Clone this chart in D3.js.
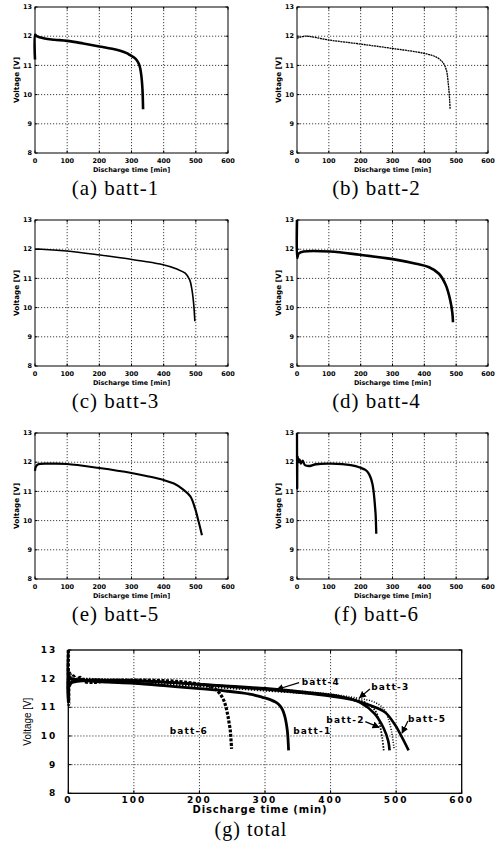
<!DOCTYPE html>
<html>
<head>
<meta charset="utf-8">
<script src="https://cdn.jsdelivr.net/npm/d3@7"></script>
<style>
  body { margin:0; background:#fff; }
  svg { display:block; }
</style>
</head>
<body>
<div id="chart"></div>
<script>
var batt1 = [[0,11.2],[0.6,12.05],[5,12.0],[30,11.92],[60,11.88],[100,11.84],[150,11.75],[200,11.65],[240,11.57],[265,11.5],[285,11.42],[296,11.35],[308,11.27],[317,11.17],[323,11.05],[327,10.9],[330,10.7],[332,10.5],[334,10.2],[335,9.93],[336,9.5]];
var batt2 = [[0,11.93],[25,12.0],[100,11.87],[200,11.73],[300,11.58],[400,11.41],[440,11.27],[458,11.1],[469,10.85],[475,10.4],[479,9.9],[481,9.5]];
var batt3 = [[0,12.0],[20,12.0],[99,11.94],[202,11.8],[306,11.64],[389,11.49],[441,11.32],[467,11.18],[481,10.95],[488,10.61],[493,10.16],[497,9.53]];
var batt4 = [[0,13.0],[0.6,11.7],[5,11.85],[21,11.92],[104,11.92],[197,11.81],[301,11.66],[374,11.5],[415,11.38],[446,11.16],[467,10.78],[481,10.27],[488,9.82],[490,9.5]];
var batt5 = [[0,11.7],[3,11.85],[10,11.93],[50,11.95],[100,11.94],[200,11.8],[300,11.63],[350,11.52],[400,11.39],[432,11.27],[460,11.07],[483,10.83],[498,10.4],[509,9.95],[519,9.5]];
var batt6 = [[0,13.0],[0.6,11.1],[2,12.2],[5,12.0],[8,12.1],[12,11.95],[18,12.05],[25,11.9],[40,11.87],[60,11.93],[107,11.95],[169,11.9],[200,11.81],[216,11.73],[225,11.62],[232,11.45],[237,11.25],[240,11.05],[243,10.75],[245,10.49],[247,10.2],[248,9.92],[249,9.55]];

var xTicks = [0,100,200,300,400,500,600];
var yTicks = [8,9,10,11,12,13];
var captions = ["(a) batt-1","(b) batt-2","(c) batt-3","(d) batt-4","(e) batt-5","(f) batt-6"];

// labels of the total plot : name, text anchor point, arrow start, arrow tip
var totalNames = ["batt-1","batt-2","batt-3","batt-4","batt-5","batt-6"];
var totalLabelPos = [[343,10.17],[452,10.58],[462,11.71],[356,11.9],[518,10.6],[213,10.17]];
var totalArrowFrom = [null,[453,10.5],[460,11.64],[352,11.86],[518,10.52],null];
var totalArrowTo = [null,[474,10.3],[444,11.33],[318,11.62],[509,10.1],null];

var W = 501, H = 842;
var svg = d3.select("#chart").append("svg")
  .attr("width", W).attr("height", H)
  .attr("viewBox", "0 0 "+W+" "+H);
svg.append("rect").attr("width", W).attr("height", H).attr("fill", "#fff");

svg.append("defs").append("marker")
  .attr("id", "arr").attr("viewBox", "0 0 10 10")
  .attr("refX", 9).attr("refY", 5)
  .attr("markerWidth", 6).attr("markerHeight", 6)
  .attr("orient", "auto-start-reverse")
  .append("path").attr("d", "M0,0 L10,5 L0,10 z").attr("fill", "#000");

var fontSm = "'DejaVu Sans', sans-serif";

// draws frame, grid and tick labels, returns the scales
function frame(L, R, T, B, big) {
  var x = d3.scaleLinear().domain([0,600]).range([L,R]);
  var y = d3.scaleLinear().domain([8,13]).range([B,T]);
  var g = svg.append("g");

  g.selectAll(".gx").data(xTicks.slice(1,-1)).enter().append("line")
    .attr("x1", d=>x(d)).attr("x2", d=>x(d)).attr("y1", T).attr("y2", B)
    .attr("stroke", "#111").attr("stroke-width", 0.8).attr("stroke-dasharray", "1.2,1.8");
  g.selectAll(".gy").data(yTicks.slice(1,-1)).enter().append("line")
    .attr("x1", L).attr("x2", R).attr("y1", d=>y(d)).attr("y2", d=>y(d))
    .attr("stroke", "#111").attr("stroke-width", 0.8).attr("stroke-dasharray", "1.2,1.8");

  // small inside ticks like matlab
  var tk = big ? 3 : 2.5;
  xTicks.forEach(function(d){
    g.append("line").attr("x1",x(d)).attr("x2",x(d)).attr("y1",B).attr("y2",B-tk).attr("stroke","#000");
    g.append("line").attr("x1",x(d)).attr("x2",x(d)).attr("y1",T).attr("y2",T+tk).attr("stroke","#000");
  });
  yTicks.forEach(function(d){
    g.append("line").attr("x1",L).attr("x2",L+tk).attr("y1",y(d)).attr("y2",y(d)).attr("stroke","#000");
    g.append("line").attr("x1",R).attr("x2",R-tk).attr("y1",y(d)).attr("y2",y(d)).attr("stroke","#000");
  });

  g.append("rect").attr("x", L).attr("y", T).attr("width", R-L).attr("height", B-T)
    .attr("fill", "none").attr("stroke", "#000").attr("stroke-width", big ? 1.3 : 1);

  var fs = big ? 9 : 6.5;
  var ls = big ? 2 : 0;
  g.selectAll(".tx").data(xTicks).enter().append("text")
    .attr("x", d=>x(d)).attr("y", B + (big ? 10 : 9.5))
    .attr("text-anchor", "middle").attr("font-family", fontSm).attr("font-weight", "bold")
    .attr("font-size", fs).attr("letter-spacing", ls).text(d=>d);
  g.selectAll(".ty").data(yTicks).enter().append("text")
    .attr("x", big ? L-11 : L-3).attr("y", d=>y(d)).attr("dy", "0.35em")
    .attr("text-anchor", "end").attr("font-family", fontSm).attr("font-weight", "bold")
    .attr("font-size", fs).attr("letter-spacing", ls).text(d=>d);

  if (big) {
    g.append("text").attr("x", (L+R)/2 - 5).attr("y", B + 19.5)
      .attr("text-anchor", "middle").attr("font-family", fontSm).attr("font-weight", "bold")
      .attr("font-size", 10).attr("letter-spacing", 0.8).text("Discharge time (min)");
    g.append("text").attr("transform", "translate("+(L-37)+","+((T+B)/2)+") rotate(-90)")
      .attr("text-anchor", "middle").attr("font-family", "'Liberation Sans', sans-serif")
      .attr("font-size", 11).attr("textLength", 48).attr("lengthAdjust", "spacingAndGlyphs")
      .text("Voltage [V]");
  } else {
    g.append("text").attr("x", (L+R)/2).attr("y", B + 19)
      .attr("text-anchor", "middle").attr("font-family", fontSm).attr("font-weight", "bold")
      .attr("font-size", 6.5).text("Discharge time [min]");
    g.append("text").attr("transform", "translate("+(L-16)+","+((T+B)/2)+") rotate(-90)")
      .attr("text-anchor", "middle").attr("font-family", fontSm).attr("font-weight", "bold")
      .attr("font-size", 7.3).text("Voltage [V]");
  }
  return {x:x, y:y, g:g};
}

function curve(sc, data, w, dash) {
  var line = d3.line().x(d=>sc.x(d[0])).y(d=>sc.y(d[1])).curve(d3.curveCatmullRom.alpha(0.5));
  sc.g.append("path").datum(data).attr("d", line)
    .attr("fill", "none").attr("stroke", "#000").attr("stroke-width", w)
    .attr("stroke-linejoin", "round")
    .attr("stroke-dasharray", dash || null);
}

function caption(txt, cx, by, fs) {
  svg.append("text").attr("x", cx).attr("y", by).attr("text-anchor", "middle")
    .attr("font-family", "'Liberation Serif', serif").attr("font-size", fs || 21)
    .attr("letter-spacing", 1).text(txt);
}

// six small panels
var cols = [[35,228],[297,488]];
var rows = [7,220,433];
var ph = 146;
var series = [batt1,batt2,batt3,batt4,batt5,batt6];
var widths = [2.6,1.3,1.6,2.6,2.1,2.3];
var dashes = [null,"2,0.6",null,null,null,null];

series.forEach(function(s,i){
  var c = cols[i%2], t = rows[Math.floor(i/2)];
  var sc = frame(c[0], c[1], t, t+ph, false);
  curve(sc, s, widths[i], dashes[i]);
  caption(captions[i], (c[0]+c[1])/2 - 16, t + ph + 42);
});

// total plot
var tot = frame(68.3, 461.7, 650, 793.3, true);
var totW = [2.8,1.8,1.6,2.6,2.6,3.2];
var totD = [null,"1.5,1.5","1,1.6",null,null,"3,1.5"];
series.forEach(function(s,i){ curve(tot, s, totW[i], totD[i]); });

totalNames.forEach(function(n,i){
  var p = totalLabelPos[i];
  var anchor = (i==1 || i==5) ? "end" : "start";
  tot.g.append("text").attr("x", tot.x(p[0])).attr("y", tot.y(p[1])).attr("dy", "0.35em")
    .attr("text-anchor", anchor).attr("font-family", fontSm).attr("font-weight", "bold")
    .attr("font-size", 9).attr("letter-spacing", 1.2).text(n);
  if (totalArrowFrom[i]) {
    var a = totalArrowFrom[i], b = totalArrowTo[i];
    tot.g.append("line")
      .attr("x1", tot.x(a[0])).attr("y1", tot.y(a[1]))
      .attr("x2", tot.x(b[0])).attr("y2", tot.y(b[1]))
      .attr("stroke", "#000").attr("stroke-width", 1.2).attr("marker-end", "url(#arr)");
  }
});

caption("(g) total", 251, 836, 20);
</script>
</body>
</html>
